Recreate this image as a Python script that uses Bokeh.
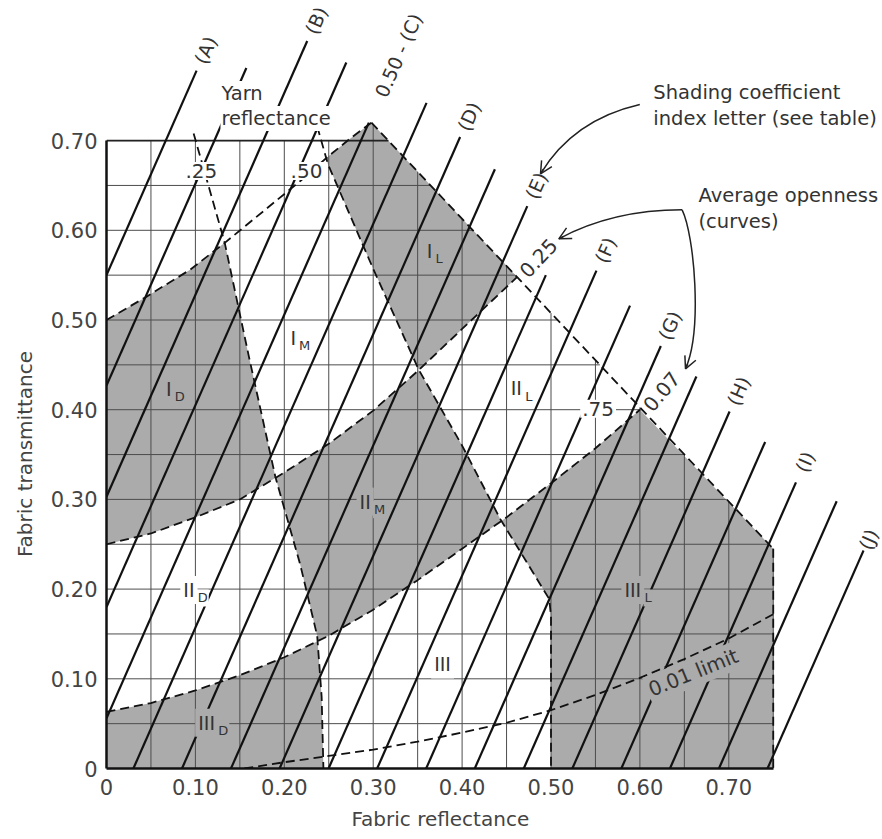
import math
import numpy as np
from bokeh.plotting import figure
from bokeh.models import Range1d, LinearAxis, FixedTicker, Arrow, OpenHead, Title
from bokeh.core.properties import value
from bokeh.embed import file_html
from bokeh.resources import INLINE

# ---------------- values ----------------
x_ticks = [0.0, 0.1, 0.2, 0.3, 0.4, 0.5, 0.6, 0.7]
x_tick_labels = ["0", "0.10", "0.20", "0.30", "0.40", "0.50", "0.60", "0.70"]
y_ticks = [0.0, 0.1, 0.2, 0.3, 0.4, 0.5, 0.6, 0.7]
y_tick_labels = ["0", "0.10", "0.20", "0.30", "0.40", "0.50", "0.60", "0.70"]
x_title = "Fabric reflectance"
y_title = "Fabric transmittance"
x_limit = 0.75
y_limit = 0.70

grid_R = [0.05, 0.10, 0.15, 0.20, 0.25, 0.30, 0.35, 0.40, 0.45, 0.50, 0.55, 0.60, 0.65, 0.70, 0.75]
grid_T = [0.05, 0.10, 0.15, 0.20, 0.25, 0.30, 0.35, 0.40, 0.45, 0.50, 0.55, 0.60, 0.65, 0.70]

# outer limit line (reflectance + transmittance ~ 1)
outer_R = [0.298, 0.75]
outer_T = [0.720, 0.245]

# average openness curves (transmittance as a function of reflectance)
open050_R = [0.0, 0.045, 0.094, 0.133, 0.154, 0.218, 0.249, 0.275, 0.298]
open050_T = [0.500, 0.526, 0.556, 0.586, 0.603, 0.655, 0.682, 0.703, 0.720]
open025_R = [0.0, 0.05, 0.10, 0.15, 0.20, 0.25, 0.30, 0.35, 0.40, 0.462]
open025_T = [0.250, 0.262, 0.280, 0.300, 0.330, 0.362, 0.399, 0.443, 0.490, 0.548]
open007_R = [0.0, 0.05, 0.10, 0.15, 0.20, 0.25, 0.30, 0.35, 0.40, 0.45, 0.50, 0.55, 0.60]
open007_T = [0.063, 0.073, 0.087, 0.104, 0.124, 0.148, 0.177, 0.210, 0.245, 0.280, 0.318, 0.357, 0.400]
open001_R = [0.155, 0.20, 0.25, 0.30, 0.35, 0.40, 0.45, 0.50, 0.55, 0.60, 0.65, 0.70, 0.75]
open001_T = [0.000, 0.007, 0.014, 0.021, 0.030, 0.040, 0.051, 0.065, 0.082, 0.101, 0.122, 0.145, 0.172]

# yarn reflectance curves (reflectance as a function of transmittance)
yarn025_T = [0.708, 0.586, 0.460, 0.325, 0.227, 0.148, 0.080, 0.0]
yarn025_R = [0.098, 0.133, 0.160, 0.190, 0.218, 0.237, 0.242, 0.244]
yarn050_T = [0.716, 0.674, 0.557, 0.445, 0.360, 0.278, 0.189, 0.170, 0.0]
yarn050_R = [0.237, 0.249, 0.300, 0.351, 0.400, 0.443, 0.498, 0.500, 0.500]

# shading coefficient lines: T = intercept + slope * R
sc_slope = 2.25
sc_intercept = [0.550, 0.427, 0.303, 0.180, 0.056, -0.068, -0.191, -0.315, -0.438, -0.562,
                -0.685, -0.809, -0.932, -1.056, -1.179, -1.303, -1.426, -1.550, -1.673]
sc_top_T = [0.778, 0.781, 0.811, 0.787, 0.720, 0.742, 0.704, 0.668, 0.627, 0.550,
            0.555, 0.516, 0.471, 0.437, 0.398, 0.364, 0.319, 0.298, 0.249]
sc_labels = ["(A)", "", "(B)", "", "0.50 - (C)", "", "(D)", "", "(E)", "", "(F)", "",
             "(G)", "", "(H)", "", "(I)", "", "(J)"]

# region labels
region_main = ["I", "I", "I", "II", "II", "II", "III", "III", "III"]
region_sub = ["D", "M", "L", "D", "M", "L", "", "D", "L"]
region_R = [0.070, 0.210, 0.3635, 0.0927, 0.291, 0.461, 0.378, 0.1126, 0.592]
region_T = [0.4235, 0.480, 0.577, 0.199, 0.2975, 0.424, 0.116, 0.051, 0.199]
region_shaded = [True, False, True, False, True, False, False, True, True]

# curve labels
yarn_labels = [".25", ".50", ".75"]
yarn_label_R = [0.1067, 0.225, 0.553]
yarn_label_T = [0.666, 0.666, 0.401]
open_labels = ["0.25", "0.07", "0.01 limit"]
open_label_R = [0.486, 0.6245, 0.660]
open_label_T = [0.569, 0.420, 0.107]
open_label_angle = [47, 50, 22]
open_label_shaded = [False, False, True]

# notes
note_lines = ["Yarn", "reflectance", "Shading coefficient", "index letter (see table)",
              "Average openness", "(curves)"]
note_R = [0.1282, 0.1282, 0.614, 0.614, 0.6648, 0.6648]
note_T = [0.7525, 0.7246, 0.7536, 0.7246, 0.6388, 0.6098]

# pointer curves (start, control(s), end)
ptr1 = [(0.5999, 0.7402), (0.525, 0.7232), (0.4882, 0.663)]
ptr2a = [(0.6475, 0.6228), (0.5697, 0.6228), (0.5088, 0.5905)]
ptr2b = [(0.6475, 0.6228), (0.6614, 0.5942), (0.6704, 0.4883), (0.6513, 0.4456)]

# ---------------- helpers ----------------
def f_open(R, T):
    return lambda r: np.interp(r, R, T)

def g_yarn(T, R):
    Ta, Ra = np.array(T[::-1]), np.array(R[::-1])
    return lambda t: np.interp(t, Ta, Ra)

def cross(R, T, YT, YR):
    fo, gy = f_open(R, T), g_yarn(YT, YR)
    ts = np.linspace(0.0, 0.72, 20001)
    h = fo(gy(ts)) - ts
    i = np.where(np.sign(h[:-1]) != np.sign(h[1:]))[0][0]
    t = ts[i]
    return float(gy(t)), float(t)

def sub_open(R, T, r0, r1):
    pts = [r for r in R if min(r0, r1) < r < max(r0, r1)]
    rr = sorted([r0, r1] + pts, reverse=(r0 > r1))
    return list(rr), list(np.interp(rr, R, T))

def sub_yarn(YT, YR, t0, t1):
    Ta, Ra = YT[::-1], YR[::-1]
    pts = [t for t in Ta if min(t0, t1) < t < max(t0, t1)]
    tt = sorted([t0, t1] + pts, reverse=(t0 > t1))
    return list(np.interp(tt, Ta, Ra)), list(tt)

def join(*parts):
    xs, ys = [], []
    for px, py in parts:
        xs += list(px)
        ys += list(py)
    return xs, ys

# intersections
p1 = cross(open050_R, open050_T, yarn025_T, yarn025_R)
p2 = cross(open025_R, open025_T, yarn025_T, yarn025_R)
p3 = cross(open007_R, open007_T, yarn025_T, yarn025_R)
q1 = cross(open050_R, open050_T, yarn050_T, yarn050_R)
q2 = cross(open025_R, open025_T, yarn050_T, yarn050_R)
q3 = cross(open007_R, open007_T, yarn050_T, yarn050_R)

regions = []
regions.append(join(([0.0], [open050_T[0]]),
                    sub_open(open050_R, open050_T, 0.0, p1[0]),
                    sub_yarn(yarn025_T, yarn025_R, p1[1], p2[1]),
                    sub_open(open025_R, open025_T, p2[0], 0.0)))
regions.append(join(sub_open(open050_R, open050_T, q1[0], open050_R[-1]),
                    ([outer_R[0]], [outer_T[0]]),
                    sub_open(open025_R, open025_T, open025_R[-1], q2[0]),
                    sub_yarn(yarn050_T, yarn050_R, q2[1], q1[1])))
regions.append(join(sub_open(open025_R, open025_T, p2[0], q2[0]),
                    sub_yarn(yarn050_T, yarn050_R, q2[1], q3[1]),
                    sub_open(open007_R, open007_T, q3[0], p3[0]),
                    sub_yarn(yarn025_T, yarn025_R, p3[1], p2[1])))
regions.append(join(([0.0], [0.0]),
                    sub_open(open007_R, open007_T, 0.0, p3[0]),
                    sub_yarn(yarn025_T, yarn025_R, p3[1], 0.0)))
regions.append(join(sub_open(open007_R, open007_T, q3[0], open007_R[-1]),
                    ([outer_R[-1], outer_R[-1]], [outer_T[-1], 0.0]),
                    sub_yarn(yarn050_T, yarn050_R, 0.0, q3[1])))

# ---------------- figure ----------------
PX_X = 889.0   # pixels per unit reflectance
PX_Y = 897.0   # pixels per unit transmittance
W, H = 882, 839
ML, MB = 106, 71
p = figure(width=W, height=H, output_backend="svg", toolbar_location=None,
           x_range=Range1d(0, (W - ML) / PX_X), y_range=Range1d(0, (H - MB) / PX_Y),
           x_axis_type=None, y_axis_type=None,
           min_border_left=ML, min_border_right=0, min_border_top=0, min_border_bottom=MB)
p.outline_line_color = None
p.background_fill_color = "white"
p.border_fill_color = "white"

FONT = value("DejaVu Sans")
SHADE = "#ababab"
INK = "#333333"

# shaded regions
p.patches(xs=[r[0] for r in regions], ys=[r[1] for r in regions],
          fill_color=SHADE, line_color=None)

# grid clipped to the physical limit
v_top = [y_limit if r < outer_R[0] - 0.005 else float(np.interp(r, outer_R, outer_T)) for r in grid_R]
h_right = [min(x_limit, float(np.interp(t, outer_T[::-1], outer_R[::-1]))) for t in grid_T]
p.segment(x0=grid_R, y0=[0.0] * len(grid_R), x1=grid_R, y1=v_top, line_color="#4d4d4d", line_width=1)
p.segment(x0=[0.0] * len(grid_T), y0=grid_T, x1=h_right, y1=grid_T, line_color="#4d4d4d", line_width=1)
p.segment(x0=[0.0], y0=[y_limit], x1=[h_right[-1]], y1=[y_limit], line_color="#222222", line_width=1.8)

# dashed boundary curves
dash = dict(line_color="#111111", line_width=1.8, line_dash="9 5")
p.line(open050_R, open050_T, **dash)
p.line(open025_R, open025_T, **dash)
p.line(open007_R, open007_T, **dash)
p.line(open001_R, open001_T, **dash)
p.line(yarn025_R, yarn025_T, **dash)
p.line(yarn050_R, yarn050_T, **dash)
p.line(outer_R, outer_T, **dash)
p.line([outer_R[-1], outer_R[-1]], [outer_T[-1], 0.0], **dash)

# shading coefficient lines
x0s = [max(0.0, -b / sc_slope) for b in sc_intercept]
y0s = [max(0.0, b) for b in sc_intercept]
x1s = [(t - b) / sc_slope for b, t in zip(sc_intercept, sc_top_T)]
p.segment(x0=x0s, y0=y0s, x1=x1s, y1=sc_top_T, line_color="#111111", line_width=2.2)

theta = math.atan(sc_slope)
lab_x, lab_y, lab_t = [], [], []
for x1, y1, lab in zip(x1s, sc_top_T, sc_labels):
    if lab:
        d = 0.082 if len(lab) > 3 else (0.007 if lab == "(J)" else 0.025)
        lab_x.append(x1 + d * math.cos(theta))
        lab_y.append(y1 + d * math.sin(theta))
        lab_t.append(lab)
p.text(x=lab_x, y=lab_y, text=lab_t, angle=theta, text_font=FONT, text_font_size="19px",
       text_color=INK, text_align="center", text_baseline="middle",
       background_fill_color="white", padding=2)

# curve labels
p.text(x=yarn_label_R, y=yarn_label_T, text=yarn_labels, text_font=FONT, text_font_size="20px",
       text_color=INK, text_align="center", text_baseline="middle",
       background_fill_color="white", padding=2)
for lab, r, t, a, sh in zip(open_labels, open_label_R, open_label_T, open_label_angle, open_label_shaded):
    p.text(x=[r], y=[t], text=[lab], angle=math.radians(a), text_font=FONT, text_font_size="20px",
           text_color=INK, text_align="center", text_baseline="middle",
           background_fill_color=SHADE if sh else "white", padding=2)

# notes
p.text(x=note_R, y=note_T, text=note_lines, text_font=FONT, text_font_size="19.5px",
       text_color=INK, text_align="left", text_baseline="middle",
       background_fill_color="white", padding=1)

# region labels
for m, s, r, t, sh in zip(region_main, region_sub, region_R, region_T, region_shaded):
    bg = SHADE if sh else "white"
    p.text(x=[r], y=[t], text=[m], text_font=FONT, text_font_size="19px", text_color=INK,
           text_align="center", text_baseline="middle", background_fill_color=bg, padding=3)
    if s:
        p.text(x=[r], y=[t], text=[s], text_font=FONT, text_font_size="13px", text_color=INK,
               text_align="left", text_baseline="middle", x_offset=2.9 * len(m) + 2, y_offset=8,
               background_fill_color=bg, padding=1)

# pointer curves with arrow heads
pen = dict(line_color="#222222", line_width=1.5)
p.quadratic(x0=[ptr1[0][0]], y0=[ptr1[0][1]], x1=[ptr1[2][0]], y1=[ptr1[2][1]],
            cx=[ptr1[1][0]], cy=[ptr1[1][1]], **pen)
p.quadratic(x0=[ptr2a[0][0]], y0=[ptr2a[0][1]], x1=[ptr2a[2][0]], y1=[ptr2a[2][1]],
            cx=[ptr2a[1][0]], cy=[ptr2a[1][1]], **pen)
p.bezier(x0=[ptr2b[0][0]], y0=[ptr2b[0][1]], x1=[ptr2b[3][0]], y1=[ptr2b[3][1]],
         cx0=[ptr2b[1][0]], cy0=[ptr2b[1][1]], cx1=[ptr2b[2][0]], cy1=[ptr2b[2][1]], **pen)
for c, e in [(ptr1[1], ptr1[2]), (ptr2a[1], ptr2a[2]), (ptr2b[2], ptr2b[3])]:
    dx, dy = e[0] - c[0], e[1] - c[1]
    n = math.hypot(dx, dy)
    p.add_layout(Arrow(end=OpenHead(size=12, line_width=1.5, line_color="#222222"),
                       x_start=e[0] - 0.006 * dx / n, y_start=e[1] - 0.006 * dy / n,
                       x_end=e[0], y_end=e[1], line_width=1.5, line_color="#222222"))

# axes (tick labels)
def make_axis(ticks, labels, bounds):
    ax = LinearAxis(ticker=FixedTicker(ticks=ticks), bounds=bounds,
                    major_label_overrides={t: l for t, l in zip(ticks, labels)},
                    axis_line_color="#111111", axis_line_width=2.5,
                    major_tick_line_color=None, minor_tick_line_color=None,
                    major_tick_in=0, major_tick_out=0, minor_tick_in=0, minor_tick_out=0)
    ax.major_label_text_font = "DejaVu Sans"
    ax.major_label_text_font_size = "21px"
    ax.major_label_text_color = "#444444"
    return ax

xax = make_axis(x_ticks, x_tick_labels, (0, x_limit))
xax.major_label_standoff = 10
yax = make_axis(y_ticks, y_tick_labels, (0, y_limit))
yax.major_label_standoff = 9
p.add_layout(xax, "below")
p.add_layout(yax, "left")

# axis titles, centred on the axis extents (0..0.75 and 0..0.70) rather than on the frame:
# aligned to the start of the panel and offset by (half extent - half text length)
X_TITLE_LEN = 177   # rendered length of the x title, px
Y_TITLE_LEN = 205   # rendered length of the y title, px
title_style = dict(text_font="DejaVu Sans", text_font_size="20px", text_font_style="normal",
                   text_color="#444444", align="left")
p.add_layout(Title(text=x_title, offset=x_limit / 2 * PX_X - X_TITLE_LEN / 2, standoff=15,
                   **title_style), "below")
p.add_layout(Title(text=y_title, offset=y_limit / 2 * PX_Y - Y_TITLE_LEN / 2, standoff=21,
                   **title_style), "left")

open("out.html", "w").write(file_html(p, INLINE))
